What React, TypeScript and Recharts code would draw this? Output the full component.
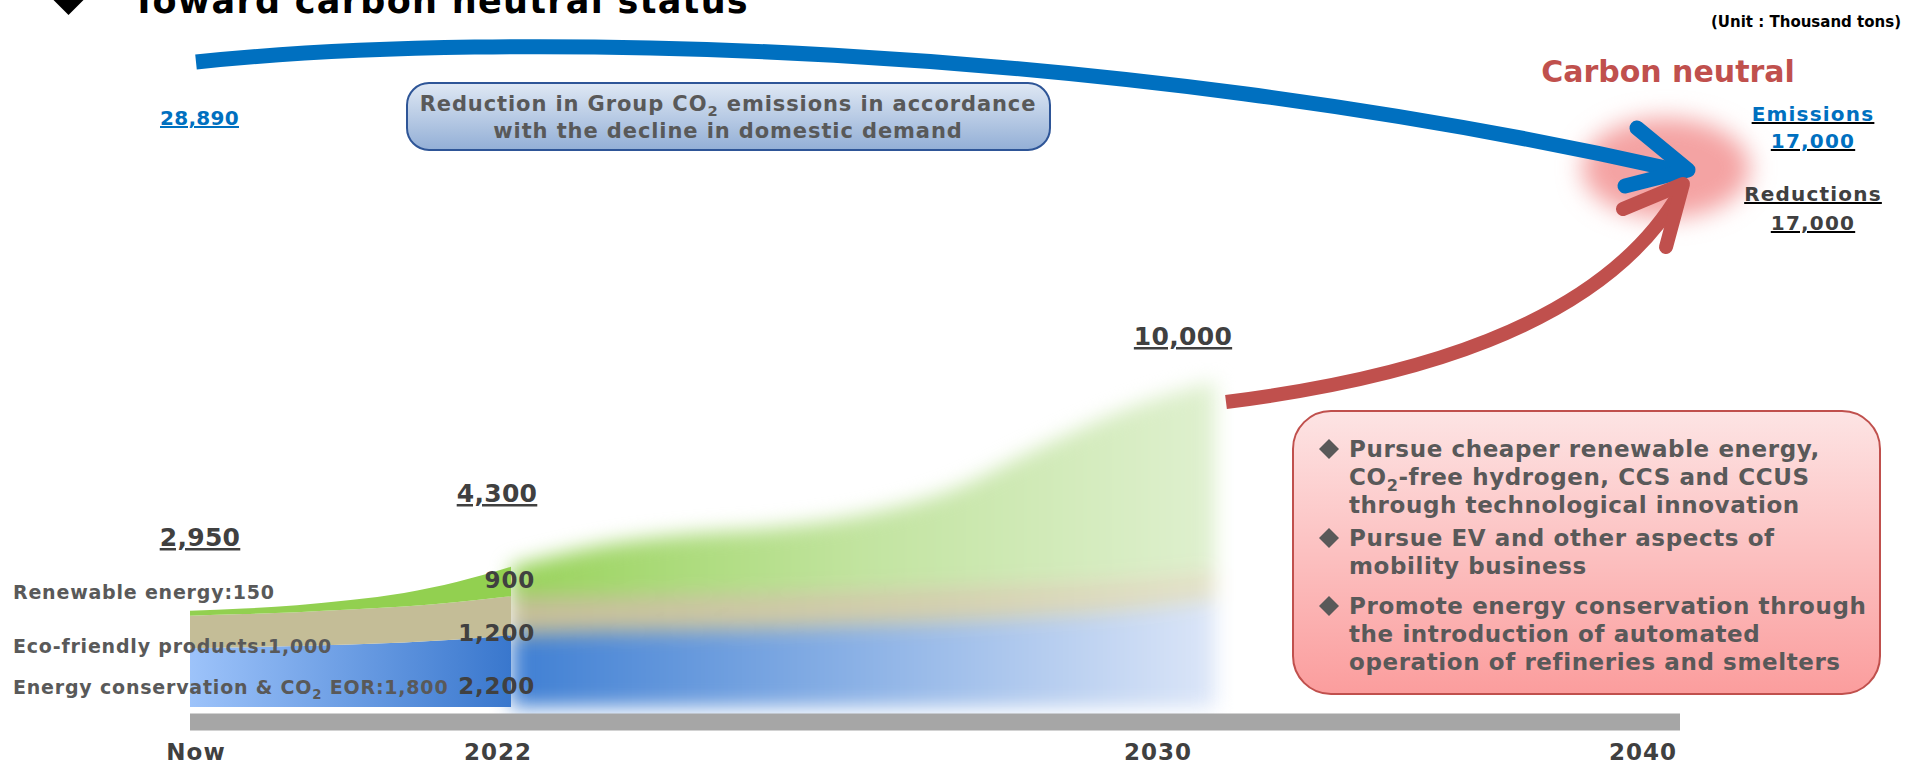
import React from 'react';
import { ComposedChart, Area, XAxis, YAxis } from 'recharts';

const W = 1923;
const H = 767;
const FONT = '"DejaVu Sans", Verdana, sans-serif';

// Now -> 2022: reductions by measure (thousand tons)
const solidYears = [2019, 2019.5, 2020, 2020.5, 2021, 2021.5, 2022];
const solidEnergy = [1800, 1830, 1870, 1920, 1980, 2070, 2200];
const solidEco = [1000, 1020, 1040, 1070, 1100, 1150, 1200];
const solidRenew = [150, 170, 210, 290, 420, 620, 900];

// 2022 -> 2030: outlook (drawn soft)
const planYears = [2022, 2023, 2024, 2025, 2026, 2027, 2028, 2029, 2030];
const planEnergy = [2200, 2300, 2350, 2400, 2500, 2600, 2750, 2950, 3300];
const planEco = [1200, 1100, 1100, 1100, 1100, 1100, 1050, 1000, 900];
const planRenew = [900, 1550, 1850, 2000, 2300, 2950, 4150, 5200, 5800];

const measureNames = ['Renewable energy', 'Eco-friendly products', 'Energy conservation & CO'];
const timelineTicks = [2019, 2022, 2030, 2040];
const emissionsNow = 28890;
const emissionsGoal = 17000;
const reductionsGoal = 17000;

const bullets = [
  ['Pursue cheaper renewable energy,', 'CO|-free hydrogen, CCS and CCUS', 'through technological innovation'],
  ['Pursue EV and other aspects of', 'mobility business'],
  ['Promote energy conservation through', 'the introduction of automated', 'operation of refineries and smelters'],
];

const solidRows = solidYears.map((year, i) => ({
  year,
  energy: solidEnergy[i],
  eco: solidEco[i],
  renew: solidRenew[i],
}));
const planRows = planYears.map((year, i) => ({
  year,
  energy: planEnergy[i],
  eco: planEco[i],
  renew: planRenew[i],
}));

const fmt = (v: number) => v.toLocaleString('en-US');
const last = solidRows.length - 1;
const totalAt = (r: { energy: number; eco: number; renew: number }) => r.energy + r.eco + r.renew;

const TOP = 381;
const BASE = 707;
const textGray = '#595959';
const darkGray = '#404040';

const Sub = ({ size }: { size: number }) => (
  <tspan dy={size * 0.25} fontSize={size * 0.7}>2</tspan>
);

// nudge so labels sit where the reference prints them
const tickShift: Record<number, number> = { 2019: 6, 2022: -13, 2030: 0, 2040: 0 };

const TimeTick = (props: any) => {
  const { x, y, payload } = props;
  const v = payload.value as number;
  return (
    <text
      x={x + (tickShift[v] || 0)}
      y={y}
      dy={16}
      textAnchor="middle"
      fill={darkGray}
      fontSize={23}
      fontWeight={700}
      fontFamily={FONT}
      letterSpacing={1}
    >
      {v === 2019 ? 'Now' : String(v)}
    </text>
  );
};

export default function App() {
  return (
    <div style={{ position: 'absolute', left: 0, top: 0, width: W, height: H, overflow: 'hidden', background: '#fff', fontFamily: FONT }}>
      {/* soft outlook */}
      <div style={{ position: 'absolute', left: 0, top: 0, filter: 'blur(10px)' }}>
        <ComposedChart width={W} height={H} data={planRows} margin={{ top: TOP, right: 0, bottom: H - BASE, left: 0 }}>
          <defs>
            <linearGradient id="planBlue" x1="0" x2="1" y1="0" y2="0">
              <stop offset="0" stopColor="#3f7fd3" />
              <stop offset="0.5" stopColor="#8cb2e6" />
              <stop offset="1" stopColor="#dce6f8" />
            </linearGradient>
            <linearGradient id="planTan" x1="0" x2="1" y1="0" y2="0">
              <stop offset="0" stopColor="#c4bd97" />
              <stop offset="0.6" stopColor="#d3cfae" />
              <stop offset="1" stopColor="#e4e2c9" />
            </linearGradient>
            <linearGradient id="planGreen" x1="0" x2="1" y1="0" y2="0">
              <stop offset="0" stopColor="#98d35a" />
              <stop offset="0.5" stopColor="#c2e4a0" />
              <stop offset="1" stopColor="#dff0cf" />
            </linearGradient>
          </defs>
          <XAxis dataKey="year" type="number" domain={[2022, 2030]} hide padding={{ left: 511, right: W - 1215 }} />
          <YAxis type="number" domain={[0, 10000]} hide />
          <Area dataKey="energy" stackId="p" type="monotone" stroke="none" fill="url(#planBlue)" fillOpacity={1} isAnimationActive={false} />
          <Area dataKey="eco" stackId="p" type="monotone" stroke="none" fill="url(#planTan)" fillOpacity={1} isAnimationActive={false} />
          <Area dataKey="renew" stackId="p" type="monotone" stroke="none" fill="url(#planGreen)" fillOpacity={1} isAnimationActive={false} />
        </ComposedChart>
      </div>

      {/* timeline bar with 2030 / 2040 */}
      <div style={{ position: 'absolute', left: 0, top: 0 }}>
        <ComposedChart width={W} height={H} data={planRows} margin={{ top: 0, right: W - 1680, bottom: 0, left: 190 }}>
          <XAxis
            dataKey="year"
            type="number"
            domain={[2030, 2040]}
            allowDataOverflow
            ticks={timelineTicks.slice(2)}
            padding={{ left: 1158 - 190, right: 1680 - 1643 }}
            height={H - 722}
            axisLine={{ stroke: '#a6a6a6', strokeWidth: 17 }}
            tickLine={false}
            tickSize={0}
            tickMargin={22}
            tick={<TimeTick />}
          />
        </ComposedChart>
      </div>

      {/* solid part Now -> 2022 */}
      <div style={{ position: 'absolute', left: 0, top: 0 }}>
        <ComposedChart width={W} height={H} data={solidRows} margin={{ top: TOP, right: 0, bottom: 0, left: 0 }}>
          <defs>
            <linearGradient id="solidBlue" x1="0" x2="1" y1="0" y2="0">
              <stop offset="0" stopColor="#9dc3fa" />
              <stop offset="1" stopColor="#3977cd" />
            </linearGradient>
          </defs>
          <XAxis
            dataKey="year"
            type="number"
            domain={[2019, 2022]}
            ticks={timelineTicks.slice(0, 2)}
            padding={{ left: 190, right: W - 511 }}
            height={H - BASE}
            axisLine={false}
            tickLine={false}
            tickSize={0}
            tickMargin={37}
            tick={<TimeTick />}
          />
          <YAxis type="number" domain={[0, 10000]} hide />
          <Area dataKey="energy" stackId="s" type="monotone" stroke="none" fill="url(#solidBlue)" fillOpacity={1} isAnimationActive={false} />
          <Area dataKey="eco" stackId="s" type="monotone" stroke="none" fill="#c4bd97" fillOpacity={1} isAnimationActive={false} />
          <Area dataKey="renew" stackId="s" type="monotone" stroke="none" fill="#92d050" fillOpacity={1} isAnimationActive={false} />
        </ComposedChart>
      </div>

      {/* annotations */}
      <svg width={W} height={H} style={{ position: 'absolute', left: 0, top: 0 }} fontFamily={FONT} fontWeight={700}>
        <defs>
          <filter id="glow" x="-50%" y="-50%" width="200%" height="200%">
            <feGaussianBlur stdDeviation="12" />
          </filter>
          <linearGradient id="boxBlue" x1="0" x2="0" y1="0" y2="1">
            <stop offset="0" stopColor="#dfe8f4" />
            <stop offset="1" stopColor="#93afd6" />
          </linearGradient>
          <linearGradient id="boxRed" x1="0" x2="0" y1="0" y2="1">
            <stop offset="0" stopColor="#fde4e4" />
            <stop offset="1" stopColor="#fb9d9d" />
          </linearGradient>
        </defs>

        {/* title */}
        <polygon points="68.5,-21 86.5,-3 68.5,15 50.5,-3" fill="#000" />
        <text x={132} y={13} fontSize={35} letterSpacing={1.3} fill="#000">Toward carbon neutral status</text>
        <text x={1901} y={27} fontSize={15} fill="#000" textAnchor="end">(Unit : Thousand tons)</text>

        {/* emissions path */}
        <ellipse cx={1666} cy={168} rx={84} ry={50} fill="#f4a3a3" filter="url(#glow)" />
        <path d="M196 62 C500 30 1100 40 1675 170" fill="none" stroke="#0070c0" strokeWidth={15} />
        <polyline points="1637,128 1688,170 1625,186" fill="none" stroke="#0070c0" strokeWidth={15} strokeLinecap="round" strokeLinejoin="round" />

        {/* reductions path */}
        <path d="M1226 402 C1400 380 1600 330 1680 192" fill="none" stroke="#c0504d" strokeWidth={14} />
        <polyline points="1623,209 1683,184 1666,247" fill="none" stroke="#c0504d" strokeWidth={14} strokeLinecap="round" strokeLinejoin="round" />

        <text x={160} y={125} fontSize={20} letterSpacing={0.3} fill="#0070c0" textDecoration="underline">{fmt(emissionsNow)}</text>

        <rect x={407} y={83} width={643} height={67} rx={22} fill="url(#boxBlue)" stroke="#2e5597" strokeWidth={2} />
        <text x={728} y={111} fontSize={21} letterSpacing={0.9} fill={textGray} textAnchor="middle">
          Reduction in Group CO<Sub size={21} /><tspan dy={-5.25}> emissions in accordance</tspan>
        </text>
        <text x={728} y={138} fontSize={21} letterSpacing={0.9} fill={textGray} textAnchor="middle">with the decline in domestic demand</text>

        <text x={1668} y={82} fontSize={30} fill="#c0504d" textAnchor="middle">Carbon neutral</text>
        <g fontSize={20} letterSpacing={1.2} textAnchor="middle" textDecoration="underline">
          <text x={1813} y={121} fill="#0070c0">Emissions</text>
          <text x={1813} y={148} fill="#0070c0">{fmt(emissionsGoal)}</text>
          <text x={1813} y={201} fill={darkGray}>Reductions</text>
          <text x={1813} y={230} fill={darkGray}>{fmt(reductionsGoal)}</text>
        </g>

        {/* totals */}
        <g fontSize={25} letterSpacing={0.3} fill={darkGray} textAnchor="middle" textDecoration="underline">
          <text x={200} y={546}>{fmt(totalAt(solidRows[0]))}</text>
          <text x={497} y={502}>{fmt(totalAt(solidRows[last]))}</text>
          <text x={1183} y={345}>{fmt(totalAt(planRows[planRows.length - 1]))}</text>
        </g>

        {/* measure labels (Now) */}
        <g fontSize={19} letterSpacing={0.8} fill={textGray}>
          <text x={13} y={599}>{measureNames[0]}:{fmt(solidRenew[0])}</text>
          <text x={13} y={653}>{measureNames[1]}:{fmt(solidEco[0])}</text>
          <text x={13} y={694}>
            {measureNames[2]}<Sub size={19} /><tspan dy={-4.75}> EOR:{fmt(solidEnergy[0])}</tspan>
          </text>
        </g>

        {/* measure values (2022) */}
        <g fontSize={23} letterSpacing={0.8} fill={darkGray} textAnchor="end">
          <text x={535} y={588}>{fmt(solidRenew[last])}</text>
          <text x={535} y={641}>{fmt(solidEco[last])}</text>
          <text x={535} y={694}>{fmt(solidEnergy[last])}</text>
        </g>

        {/* measures box */}
        <rect x={1293} y={411} width={587} height={283} rx={38} fill="url(#boxRed)" stroke="#c0504d" strokeWidth={2} />
        {bullets.map((group, gi) => {
          const starts = [457, 546, 614];
          return group.map((line, li) => {
            const y = starts[gi] + li * 28;
            const parts = line.split('|');
            const cy = y - 8;
            return (
              <g key={`${gi}-${li}`}>
                {li === 0 && (
                  <polygon points={`1329,${cy - 10} 1339,${cy} 1329,${cy + 10} 1319,${cy}`} fill={textGray} />
                )}
                <text x={1349} y={y} fontSize={23} letterSpacing={0.6} fill={textGray}>
                  {parts.length > 1 ? (
                    <>
                      {parts[0]}<Sub size={23} /><tspan dy={-5.75}>{parts[1]}</tspan>
                    </>
                  ) : line}
                </text>
              </g>
            );
          });
        })}
      </svg>
    </div>
  );
}
